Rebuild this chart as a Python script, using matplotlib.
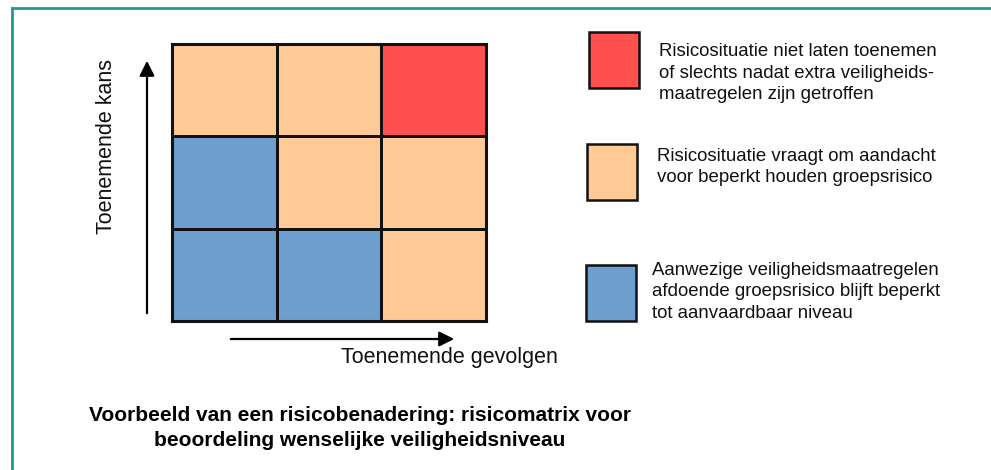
import matplotlib.pyplot as plt
from matplotlib.colors import ListedColormap
from matplotlib.patches import Rectangle
import numpy as np

# risk level per cell, rows from bottom (low kans) to top (high kans),
# columns from low to high gevolgen: 0 = blue, 1 = orange, 2 = red
risk_levels = [
    [0, 0, 1],
    [0, 1, 1],
    [1, 1, 2],
]
level_colors = ["#6d9ecd", "#ffca96", "#ff5050"]
legend_texts = [
    "Risicosituatie niet laten toenemen\nof slechts nadat extra veiligheids-\nmaatregelen zijn getroffen",
    "Risicosituatie vraagt om aandacht\nvoor beperkt houden groepsrisico",
    "Aanwezige veiligheidsmaatregelen\nafdoende groepsrisico blijft beperkt\ntot aanvaardbaar niveau",
]
legend_levels = [2, 1, 0]
x_label = "Toenemende gevolgen"
y_label = "Toenemende kans"
title = ("Voorbeeld van een risicobenadering: risicomatrix voor\n"
         "beoordeling wenselijke veiligheidsniveau")

W, H = 991, 470
plt.rcParams['font.family'] = ['Liberation Sans', 'DejaVu Sans']

fig = plt.figure(figsize=(W / 100, H / 100), dpi=100)
fig.patch.set_facecolor("white")

# overlay axes in pixel coordinates
bg = fig.add_axes([0, 0, 1, 1])
bg.set_xlim(0, W)
bg.set_ylim(H, 0)
bg.axis("off")

# teal frame (top and left edge)
teal = "#1e9b96"
bg.plot([12, W], [8, 8], color=teal, lw=2)
bg.plot([12, 12], [8, H], color=teal, lw=2)

# risk matrix
mx0, my0, mx1, my1 = 172, 44, 486, 321
ax = fig.add_axes([mx0 / W, 1 - my1 / H, (mx1 - mx0) / W, (my1 - my0) / H])
cmap = ListedColormap(level_colors)
ax.pcolormesh(np.array(risk_levels), cmap=cmap, vmin=-0.5, vmax=2.5,
              edgecolors="#111111", linewidth=1.8)
ax.set_xticks([])
ax.set_yticks([])
for s in ax.spines.values():
    s.set_linewidth(2.2)
    s.set_color("#111111")

# arrows
bg.annotate("", xy=(147, 58), xytext=(147, 316),
            arrowprops=dict(arrowstyle="-|>,head_length=0.9,head_width=0.45",
                            color="black", lw=1.6))
bg.annotate("", xy=(457, 339), xytext=(228, 339),
            arrowprops=dict(arrowstyle="-|>,head_length=0.9,head_width=0.45",
                            color="black", lw=1.6))
bg.text(106, 146, y_label, rotation=90, ha="center", va="center",
        fontsize=15.5, color="#111111")
bg.text(449, 357, x_label, ha="center", va="center",
        fontsize=15.5, color="#111111")

# legend
legend_boxes = [(589, 32), (587, 144), (586, 265)]
text_pos = [(659, 73), (657, 167), (652, 292)]
for (bx, by), (tx, ty), lvl, txt in zip(legend_boxes, text_pos,
                                          legend_levels, legend_texts):
    bg.add_patch(Rectangle((bx, by), 50, 56, facecolor=level_colors[lvl],
                           edgecolor="#111111", lw=1.8))
    bg.text(tx, ty, txt, ha="left", va="center", fontsize=13.4,
            linespacing=1.33, color="#111111")

bg.text(360, 428, title, ha="center", va="center", fontsize=15,
        fontweight="bold", linespacing=1.42, color="black")

fig.savefig("out.png", dpi=100)
